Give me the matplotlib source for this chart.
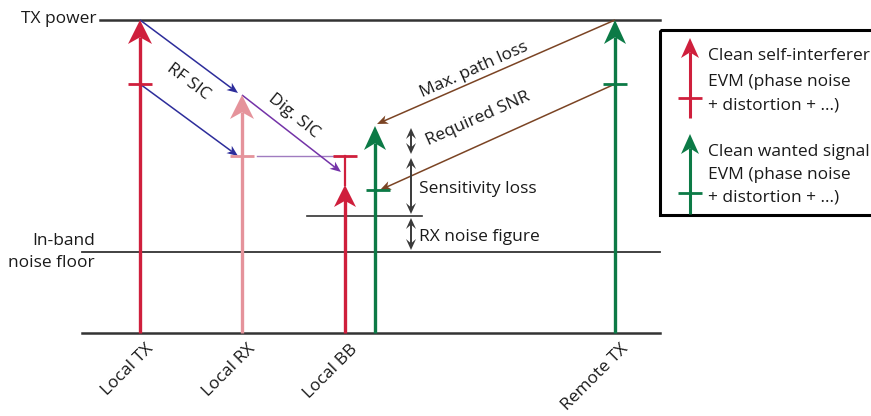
import numpy as np
import matplotlib
matplotlib.use("Agg")
import matplotlib.pyplot as plt
from matplotlib.patches import Polygon, Rectangle

plt.rcParams['font.family'] = ['Open Sans', 'DejaVu Sans']

# ---- data (diagram levels in pixel-like units, y grows downward) ----
columns = ["Local TX", "Local RX", "Local BB", "Remote TX"]
col_x = [140, 242, 345, 615]
green_bb_x = 375

level_tx_power = 20
level_noise_floor = 252
level_bottom = 333
level_rx_nf = 216

level_si_evm_tx = 84       # EVM of self-interferer at local TX
level_si_rx = 95           # clean SI after RF SIC at local RX
level_si_evm_rx = 156      # EVM after RF SIC at local RX
level_si_bb = 185          # clean SI at BB after digital SIC
level_si_evm_bb = 156      # EVM at BB
level_wanted_bb = 126      # wanted signal at local BB
level_wanted_evm_tx = 84   # EVM of remote TX
level_wanted_evm_bb = 190  # EVM of wanted at BB

dim_x = 411
dim_levels = [126, 156, 216, 252]
dim_labels = ["", "Sensitivity loss", "RX noise figure"]

RED = "#cf1f3c"
PINK = "#e5939b"
GREEN = "#0c7a46"
BLUE = "#2d2d9b"
PURPLE = "#7433a8"
LPURPLE = "#a07cc0"
BROWN = "#7b4424"
GRAY = "#3a3a3a"
LINE = "#333333"
TXT = "#1a1a1a"
FS = 12.5

fig = plt.figure(figsize=(8.71, 4.16), dpi=100)
ax = fig.add_axes([0, 0, 1, 1])
ax.set_xlim(0, 871)
ax.set_ylim(416, 0)
ax.axis('off')


def head(tip, tail, L, W, color, notch=0.72, z=5):
    tip = np.array(tip, float)
    tail = np.array(tail, float)
    u = tip - tail
    u /= np.hypot(*u)
    n = np.array([-u[1], u[0]])
    pts = [tip, tip - u * L + n * W / 2, tip - u * L * notch, tip - u * L - n * W / 2]
    ax.add_patch(Polygon(pts, closed=True, color=color, lw=0, zorder=z))


def arrow(tail, tip, color, lw, L, W, z=4):
    tip = np.array(tip, float)
    tail = np.array(tail, float)
    u = tip - tail
    u /= np.hypot(*u)
    end = tip - u * L * 0.7
    ax.plot([tail[0], end[0]], [tail[1], end[1]], color=color, lw=lw, zorder=z,
            solid_capstyle='butt')
    head(tip, tail, L, W, color, z=z + 1)


def tick(x, y, half, color, lw=2.0, z=6):
    ax.plot([x - half, x + half], [y, y], color=color, lw=lw, zorder=z,
            solid_capstyle='butt')

# horizontal reference lines
ax.plot([100, 660], [level_tx_power] * 2, color=LINE, lw=1.8, zorder=2)
ax.plot([82, 660], [level_noise_floor] * 2, color=LINE, lw=1.3, zorder=2)
ax.plot([82, 660], [level_bottom] * 2, color=LINE, lw=1.8, zorder=2)
ax.plot([307, 422], [level_rx_nf] * 2, color=LINE, lw=1.2, zorder=2)

# vertical signal arrows
arrow((col_x[0], level_bottom), (col_x[0], level_tx_power), RED, 2.4, 24, 24)
tick(col_x[0], level_si_evm_tx, 12, RED)
arrow((col_x[1], level_bottom), (col_x[1], level_si_rx), PINK, 2.4, 24, 24)
tick(col_x[1], level_si_evm_rx, 12, PINK)
ax.plot([col_x[1] + 15, col_x[2] - 12], [level_si_evm_rx] * 2, color=LPURPLE, lw=1.0, zorder=3)
arrow((col_x[2], level_bottom), (col_x[2], level_si_bb), RED, 2.4, 22, 22)
ax.plot([col_x[2], col_x[2]], [level_si_bb, level_si_evm_bb], color=RED, lw=1.6, zorder=4)
tick(col_x[2], level_si_evm_bb, 12, RED)
arrow((green_bb_x, level_bottom), (green_bb_x, level_wanted_bb), GREEN, 2.4, 24, 22)
tick(green_bb_x + 3, level_wanted_evm_bb, 12, GREEN)
arrow((col_x[3], level_bottom), (col_x[3], level_tx_power), GREEN, 2.4, 24, 22)
tick(col_x[3], level_wanted_evm_tx, 12, GREEN)

# SIC arrows
arrow((col_x[0], level_tx_power), (col_x[1] - 4, level_si_rx - 2), BLUE, 1.1, 11, 9)
arrow((col_x[0], level_si_evm_tx), (col_x[1] - 4, level_si_evm_rx), BLUE, 1.1, 11, 9)
arrow((col_x[1], level_si_rx), (col_x[2] - 4, level_si_bb - 13), PURPLE, 1.1, 11, 9)
ax.text(188, 82, "RF SIC", rotation=-37, ha='center', va='center', fontsize=FS, color=TXT)
ax.text(294, 116, "Dig. SIC", rotation=-39, ha='center', va='center', fontsize=FS, color=TXT)

# path loss arrows
arrow((col_x[3], level_tx_power), (green_bb_x + 2, level_wanted_bb - 2), BROWN, 1.1, 11, 9)
arrow((col_x[3], level_wanted_evm_tx), (green_bb_x + 5, level_wanted_evm_bb), BROWN, 1.1, 11, 9)
ax.text(474, 70, "Max. path loss", rotation=24, ha='center', va='center', fontsize=FS, color=TXT)
ax.text(478, 119, "Required SNR", rotation=24, ha='center', va='center', fontsize=FS, color=TXT)

# dimension double arrows
for i in range(len(dim_levels) - 1):
    a, b = dim_levels[i] + 2, dim_levels[i + 1] - 2
    ax.plot([dim_x, dim_x], [a + 6, b - 6], color=GRAY, lw=1.4, zorder=4)
    head((dim_x, a), (dim_x, b), 11, 10, GRAY, notch=0.6)
    head((dim_x, b), (dim_x, a), 11, 10, GRAY, notch=0.6)
    if dim_labels[i]:
        ax.text(dim_x + 8, (dim_levels[i] + dim_levels[i + 1]) / 2 + 3, dim_labels[i],
                ha='left', va='center', fontsize=FS, color=TXT)

# left labels
ax.text(96, level_tx_power - 1, "TX power", ha='right', va='center', fontsize=FS, color=TXT)
ax.text(95, level_noise_floor, "In-band\nnoise floor", ha='right', va='center', fontsize=FS,
        color=TXT, linespacing=1.45, multialignment='right')

# column labels
for x, lab in zip(col_x, columns):
    ax.text(x + 5, level_bottom + 8, lab, rotation=45, rotation_mode='anchor',
            ha='right', va='top', fontsize=FS, color=TXT)

# legend box
ax.add_patch(Rectangle((660, 30), 220, 185, fill=False, ec='black', lw=2.2, zorder=6))
arrow((690, 118), (690, 38), RED, 2.2, 20, 18, z=7)
tick(690, 98, 12, RED, z=8)
arrow((690, 214), (690, 134), GREEN, 2.2, 20, 18, z=7)
tick(690, 193, 12, GREEN, z=8)
leg_texts = ["Clean self-interferer", "EVM (phase noise", "+ distortion + ...)",
             "Clean wanted signal", "EVM (phase noise", "+ distortion + ...)"]
leg_y = [56, 82, 105, 152, 175, 198]
for t, y in zip(leg_texts, leg_y):
    ax.text(708, y, t, ha='left', va='center', fontsize=FS, color=TXT)

fig.savefig("out.png", dpi=100)
